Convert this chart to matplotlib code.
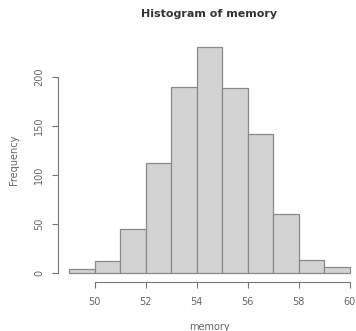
import matplotlib
matplotlib.use("Agg")
import matplotlib.pyplot as plt

# Histogram bins (breaks) and counts
breaks = [49, 50, 51, 52, 53, 54, 55, 56, 57, 58, 59, 60]
counts = [4, 12, 45, 112, 190, 230, 188, 142, 60, 13, 6]
x_ticks = [50, 52, 54, 56, 58, 60]
y_ticks = [0, 50, 100, 150, 200]

fig = plt.figure(figsize=(3.56, 3.31), dpi=100)
ax = fig.add_axes([0.1624, 0.149, 0.8517, 0.7353])

ax.bar(breaks[:-1], counts, width=1, align='edge',
       facecolor='#d3d3d3', edgecolor='#8a8a8a', linewidth=0.9)

# R-style limits: range extended 4% on each side
ax.set_xlim(48.56, 60.44)
ax.set_ylim(-9.2, 239.2)

for s in ['top', 'right']:
    ax.spines[s].set_visible(False)
ax.spines['bottom'].set_bounds(50, 60)
ax.spines['left'].set_bounds(0, 200)
for s in ['bottom', 'left']:
    ax.spines[s].set_color('#777777')
    ax.spines[s].set_linewidth(0.8)

ax.set_xticks(x_ticks)
ax.set_yticks(y_ticks)
ax.set_yticklabels([str(v) for v in y_ticks], rotation=90, va='center')
ax.tick_params(colors='#777777', labelcolor='#666666', labelsize=7,
               length=4, width=0.8)
ax.tick_params(axis='x', pad=7)
ax.tick_params(axis='y', pad=6)

ax.set_title("Histogram of memory", fontsize=8, fontweight='bold',
             color='#333333', pad=15)
ax.set_xlabel("memory", fontsize=7, color='#666666', labelpad=10.5)
ax.set_ylabel("Frequency", fontsize=7, color='#666666', labelpad=11)

fig.savefig("out.png", dpi=100)
